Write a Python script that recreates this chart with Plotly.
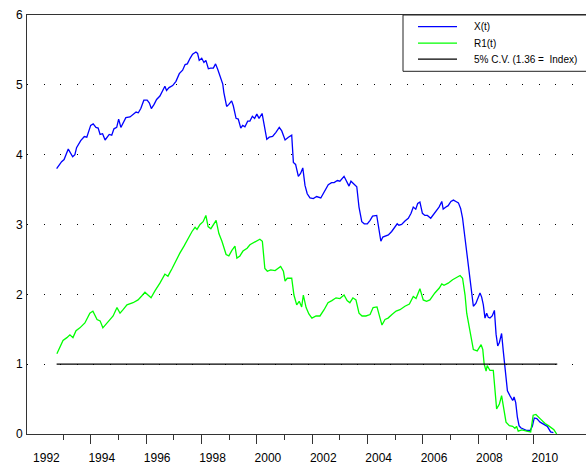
import plotly.graph_objects as go

# ---- data (decimal years) ----
x_dates = [1992.77, 1992.95, 1993.04, 1993.19, 1993.35, 1993.43, 1993.49, 1993.64, 1993.77, 1993.86,
           1994.00, 1994.09, 1994.19, 1994.27, 1994.34, 1994.43, 1994.52, 1994.67, 1994.76, 1994.84,
           1994.94, 1995.01, 1995.09, 1995.18, 1995.27, 1995.42, 1995.54, 1995.64, 1995.72, 1995.81,
           1995.92, 1996.04, 1996.12, 1996.19, 1996.29, 1996.38, 1996.50, 1996.60, 1996.68, 1996.74,
           1996.83, 1996.96, 1997.08, 1997.20, 1997.32, 1997.41, 1997.49, 1997.59, 1997.68, 1997.80,
           1997.86, 1997.92, 1998.01, 1998.09, 1998.16, 1998.25, 1998.33, 1998.43, 1998.51, 1998.59,
           1998.67, 1998.77, 1998.81, 1998.91, 1998.99, 1999.09, 1999.15, 1999.21, 1999.25, 1999.33,
           1999.42, 1999.49, 1999.57, 1999.67, 1999.75, 1999.84, 1999.92, 2000.00, 2000.08, 2000.19,
           2000.26, 2000.36, 2000.45, 2000.57, 2000.69, 2000.81, 2000.90, 2001.02, 2001.14, 2001.26,
           2001.32, 2001.40, 2001.50, 2001.58, 2001.66, 2001.74, 2001.82, 2001.92, 2002.04, 2002.16,
           2002.31, 2002.43, 2002.58, 2002.70, 2002.79, 2002.91, 2003.00, 2003.15, 2003.25, 2003.33,
           2003.40, 2003.52, 2003.61, 2003.69, 2003.79, 2003.88, 2003.99, 2004.09, 2004.18, 2004.33,
           2004.39, 2004.48, 2004.55, 2004.63, 2004.75, 2004.87, 2004.99, 2005.07, 2005.13, 2005.23,
           2005.35, 2005.47, 2005.57, 2005.65, 2005.74, 2005.81, 2005.89, 2005.98, 2006.07, 2006.16,
           2006.28, 2006.40, 2006.52, 2006.58, 2006.68, 2006.73, 2006.83, 2006.91, 2007.01, 2007.10,
           2007.19, 2007.28, 2007.36, 2007.43, 2007.52, 2007.58, 2007.67, 2007.73, 2007.82, 2007.91,
           2007.98, 2008.06, 2008.12, 2008.18, 2008.24, 2008.30, 2008.36, 2008.42, 2008.50, 2008.58,
           2008.64, 2008.70, 2008.76, 2008.84, 2008.90, 2008.97, 2009.05, 2009.14, 2009.24, 2009.29,
           2009.35, 2009.41, 2009.47, 2009.53, 2009.62, 2009.75, 2009.87, 2009.95, 2010.02, 2010.11,
           2010.23, 2010.37, 2010.49, 2010.61, 2010.71]
x_values = [3.80, 3.90, 3.93, 4.08, 3.97, 4.00, 4.10, 4.20, 4.26, 4.25,
            4.42, 4.44, 4.39, 4.38, 4.29, 4.30, 4.21, 4.29, 4.28, 4.37,
            4.39, 4.51, 4.39, 4.46, 4.53, 4.54, 4.58, 4.61, 4.60, 4.66,
            4.78, 4.78, 4.74, 4.66, 4.72, 4.79, 4.84, 4.91, 4.98, 4.92,
            4.96, 4.99, 5.05, 5.16, 5.21, 5.29, 5.30, 5.38, 5.44, 5.47,
            5.45, 5.35, 5.38, 5.32, 5.35, 5.23, 5.24, 5.24, 5.30, 5.22,
            5.11, 5.01, 4.89, 4.69, 4.72, 4.77, 4.70, 4.60, 4.52, 4.51,
            4.38, 4.42, 4.40, 4.48, 4.48, 4.55, 4.52, 4.58, 4.52, 4.59,
            4.41, 4.22, 4.25, 4.26, 4.32, 4.39, 4.34, 4.21, 4.25, 4.28,
            3.89, 3.86, 3.69, 3.73, 3.81, 3.56, 3.44, 3.38, 3.37, 3.40,
            3.38, 3.46, 3.57, 3.60, 3.60, 3.63, 3.62, 3.69, 3.62, 3.55,
            3.62, 3.58, 3.54, 3.25, 3.04, 3.01, 3.01, 3.06, 3.12, 3.13,
            2.97, 2.76, 2.82, 2.83, 2.85, 2.90, 2.97, 3.01, 2.99, 3.00,
            3.05, 3.09, 3.16, 3.25, 3.22, 3.30, 3.32, 3.16, 3.13, 3.13,
            3.09, 3.16, 3.23, 3.25, 3.33, 3.22, 3.25, 3.27, 3.33, 3.35,
            3.33, 3.31, 3.23, 3.09, 2.80, 2.60, 2.35, 2.11, 1.83, 1.87,
            1.95, 2.02, 1.96, 1.85, 1.66, 1.73, 1.67, 1.66, 1.69, 1.77,
            1.43, 1.26, 1.31, 1.44, 1.19, 0.95, 0.62, 0.55, 0.48, 0.53,
            0.45, 0.24, 0.12, 0.09, 0.07, 0.05, 0.05, 0.11, 0.23, 0.22,
            0.17, 0.14, 0.11, 0.03, 0.02]

r1_dates = [1992.78, 1992.89, 1993.00, 1993.14, 1993.25, 1993.36, 1993.47, 1993.61, 1993.79, 1993.97,
            1994.08, 1994.23, 1994.34, 1994.44, 1994.59, 1994.70, 1994.81, 1994.95, 1995.06, 1995.17,
            1995.31, 1995.53, 1995.71, 1995.85, 1995.96, 1996.07, 1996.18, 1996.32, 1996.50, 1996.68,
            1996.79, 1996.94, 1997.08, 1997.22, 1997.37, 1997.51, 1997.66, 1997.77, 1997.84, 1997.95,
            1998.06, 1998.16, 1998.24, 1998.34, 1998.45, 1998.53, 1998.63, 1998.74, 1998.89, 1998.99,
            1999.10, 1999.21, 1999.28, 1999.39, 1999.50, 1999.65, 1999.75, 1999.87, 2000.00, 2000.11,
            2000.20, 2000.29, 2000.38, 2000.50, 2000.66, 2000.78, 2000.86, 2000.96, 2001.02, 2001.10,
            2001.26, 2001.34, 2001.44, 2001.53, 2001.62, 2001.68, 2001.78, 2001.88, 2001.99, 2002.14,
            2002.28, 2002.43, 2002.57, 2002.71, 2002.86, 2003.00, 2003.15, 2003.26, 2003.36, 2003.47,
            2003.58, 2003.69, 2003.80, 2003.94, 2004.09, 2004.20, 2004.34, 2004.45, 2004.52, 2004.63,
            2004.74, 2004.88, 2005.03, 2005.17, 2005.35, 2005.51, 2005.65, 2005.75, 2005.89, 2006.01,
            2006.13, 2006.25, 2006.43, 2006.59, 2006.68, 2006.76, 2006.91, 2007.07, 2007.22, 2007.34,
            2007.43, 2007.52, 2007.58, 2007.70, 2007.82, 2007.96, 2008.03, 2008.10, 2008.16, 2008.21,
            2008.28, 2008.32, 2008.42, 2008.54, 2008.66, 2008.76, 2008.84, 2008.93, 2009.00, 2009.12,
            2009.24, 2009.32, 2009.38, 2009.44, 2009.57, 2009.75, 2009.89, 2009.98, 2010.08, 2010.23,
            2010.41, 2010.53, 2010.65, 2010.73, 2010.83]
r1_values = [1.15, 1.24, 1.34, 1.38, 1.42, 1.38, 1.48, 1.52, 1.59, 1.73,
             1.76, 1.64, 1.62, 1.52, 1.59, 1.64, 1.69, 1.81, 1.73, 1.78,
             1.85, 1.88, 1.92, 1.98, 2.03, 1.99, 1.95, 2.05, 2.16, 2.29,
             2.26, 2.37, 2.49, 2.59, 2.69, 2.80, 2.90, 2.96, 2.93, 3.00,
             3.04, 3.13, 2.97, 2.94, 3.01, 3.06, 2.87, 2.76, 2.57, 2.55,
             2.63, 2.69, 2.52, 2.55, 2.62, 2.66, 2.71, 2.74, 2.76, 2.79,
             2.76, 2.37, 2.33, 2.35, 2.34, 2.37, 2.40, 2.33, 2.19, 2.23,
             2.23, 1.99, 1.85, 1.90, 1.82, 1.99, 1.81, 1.72, 1.66, 1.69,
             1.69, 1.78, 1.88, 1.91, 1.95, 1.94, 1.99, 1.91, 1.88, 1.95,
             1.92, 1.73, 1.69, 1.69, 1.71, 1.81, 1.82, 1.66, 1.56, 1.64,
             1.66, 1.71, 1.76, 1.78, 1.83, 1.86, 1.97, 1.94, 2.08, 1.92,
             1.90, 1.92, 2.02, 2.09, 2.15, 2.13, 2.16, 2.21, 2.24, 2.27,
             2.23, 1.99, 1.73, 1.47, 1.21, 1.19, 1.24, 1.28, 1.21, 1.00,
             0.90, 0.98, 0.91, 0.91, 0.36, 0.43, 0.55, 0.34, 0.17, 0.12,
             0.11, 0.08, 0.11, 0.04, 0.06, 0.04, 0.03, 0.27, 0.28, 0.22,
             0.15, 0.12, 0.08, 0.06, 0.00]

cv_dates = [1992.77, 2010.85]
cv_values = [1.0, 1.0]

label_years = [1992, 1994, 1996, 1998, 2000, 2002, 2004, 2006, 2008, 2010]
major_tick_years = [1994, 1996, 1998, 2000, 2002, 2004, 2006, 2008, 2010]
minor_tick_years = [1993, 1995, 1997, 1999, 2001, 2003, 2005, 2007, 2009]
y_ticks = [0, 1, 2, 3, 4, 5, 6]

series_names = ["X(t)", "R1(t)", "5% C.V. (1.36 =  Index)"]
series_colors = ["#0000FF", "#00FF00", "#000000"]

# ---- figure ----
fig = go.Figure()
for xs, ys, nm, col in [(x_dates, x_values, series_names[0], series_colors[0]),
                        (r1_dates, r1_values, series_names[1], series_colors[1]),
                        (cv_dates, cv_values, series_names[2], series_colors[2])]:
    fig.add_trace(go.Scatter(x=xs, y=ys, mode="lines", name=nm,
                             line=dict(color=col, width=1.3), hoverinfo="skip"))

# invisible trace on label axis
fig.add_trace(go.Scatter(x=[label_years[0]], y=[0], xaxis="x2", mode="markers",
                         marker=dict(opacity=0), showlegend=False, hoverinfo="skip"))

L, R, T, B = 27, 0, 15, 28
W, H = 586, 465
xr = [1991.70, 2011.888]

fig.update_layout(
    width=W, height=H,
    margin=dict(l=L, r=R, t=T, b=B),
    plot_bgcolor="white", paper_bgcolor="white",
    showlegend=False,
    font=dict(family="Liberation Sans, Arial, sans-serif", size=12, color="black"),
    xaxis=dict(range=xr, tickmode="array", tickvals=major_tick_years, ticks="outside",
               ticklen=9, tickcolor="#333", tickwidth=1, showticklabels=False,
               showgrid=False, zeroline=False, showline=True, linecolor="#333",
               linewidth=1, mirror=True,
               minor=dict(tickmode="array", tickvals=minor_tick_years, ticks="outside",
                          ticklen=5, tickcolor="#333", showgrid=False)),
    xaxis2=dict(range=xr, overlaying="x", anchor="y", side="bottom",
                tickmode="array", tickvals=[y + 0.4 for y in label_years],
                ticktext=[str(y) for y in label_years], ticks="outside", ticklen=13,
                tickcolor="rgba(0,0,0,0)", showgrid=False, zeroline=False, showline=False,
                tickfont=dict(size=12, color="black")),
    yaxis=dict(range=[0, 6], tickmode="array", tickvals=y_ticks, ticks="outside",
               ticklen=1, tickcolor="rgba(0,0,0,0)", showgrid=True, gridcolor="#000",
               gridwidth=1, griddash="1px,15.5px", zeroline=False, showline=True,
               linecolor="#333", linewidth=1, tickfont=dict(size=12, color="black")),
)

# ---- manual legend ----
pw, ph = W - L - R, H - T - B
def px(xp):
    return (xp - L) / pw
def py(yp):
    return (H - B - yp) / ph

fig.add_shape(type="rect", xref="paper", yref="paper", x0=px(403), x1=px(600),
              y0=py(71.7), y1=1.0, line=dict(color="#222", width=1), fillcolor="white",
              layer="above")
rows_y = [26.7, 43.3, 59.5]
for nm, col, ry in zip(series_names, series_colors, rows_y):
    fig.add_shape(type="line", xref="paper", yref="paper", x0=px(418), x1=px(457),
                  y0=py(ry), y1=py(ry), line=dict(color=col, width=1.3), layer="above")
    fig.add_annotation(xref="paper", yref="paper", x=px(472), y=py(ry), text=nm,
                       showarrow=False, xanchor="left", yanchor="middle",
                       font=dict(size=10, color="black"))

fig.write_html("out.html", config={"displayModeBar": False},
               post_script="document.body.style.margin='0';document.body.style.overflow='hidden';")
